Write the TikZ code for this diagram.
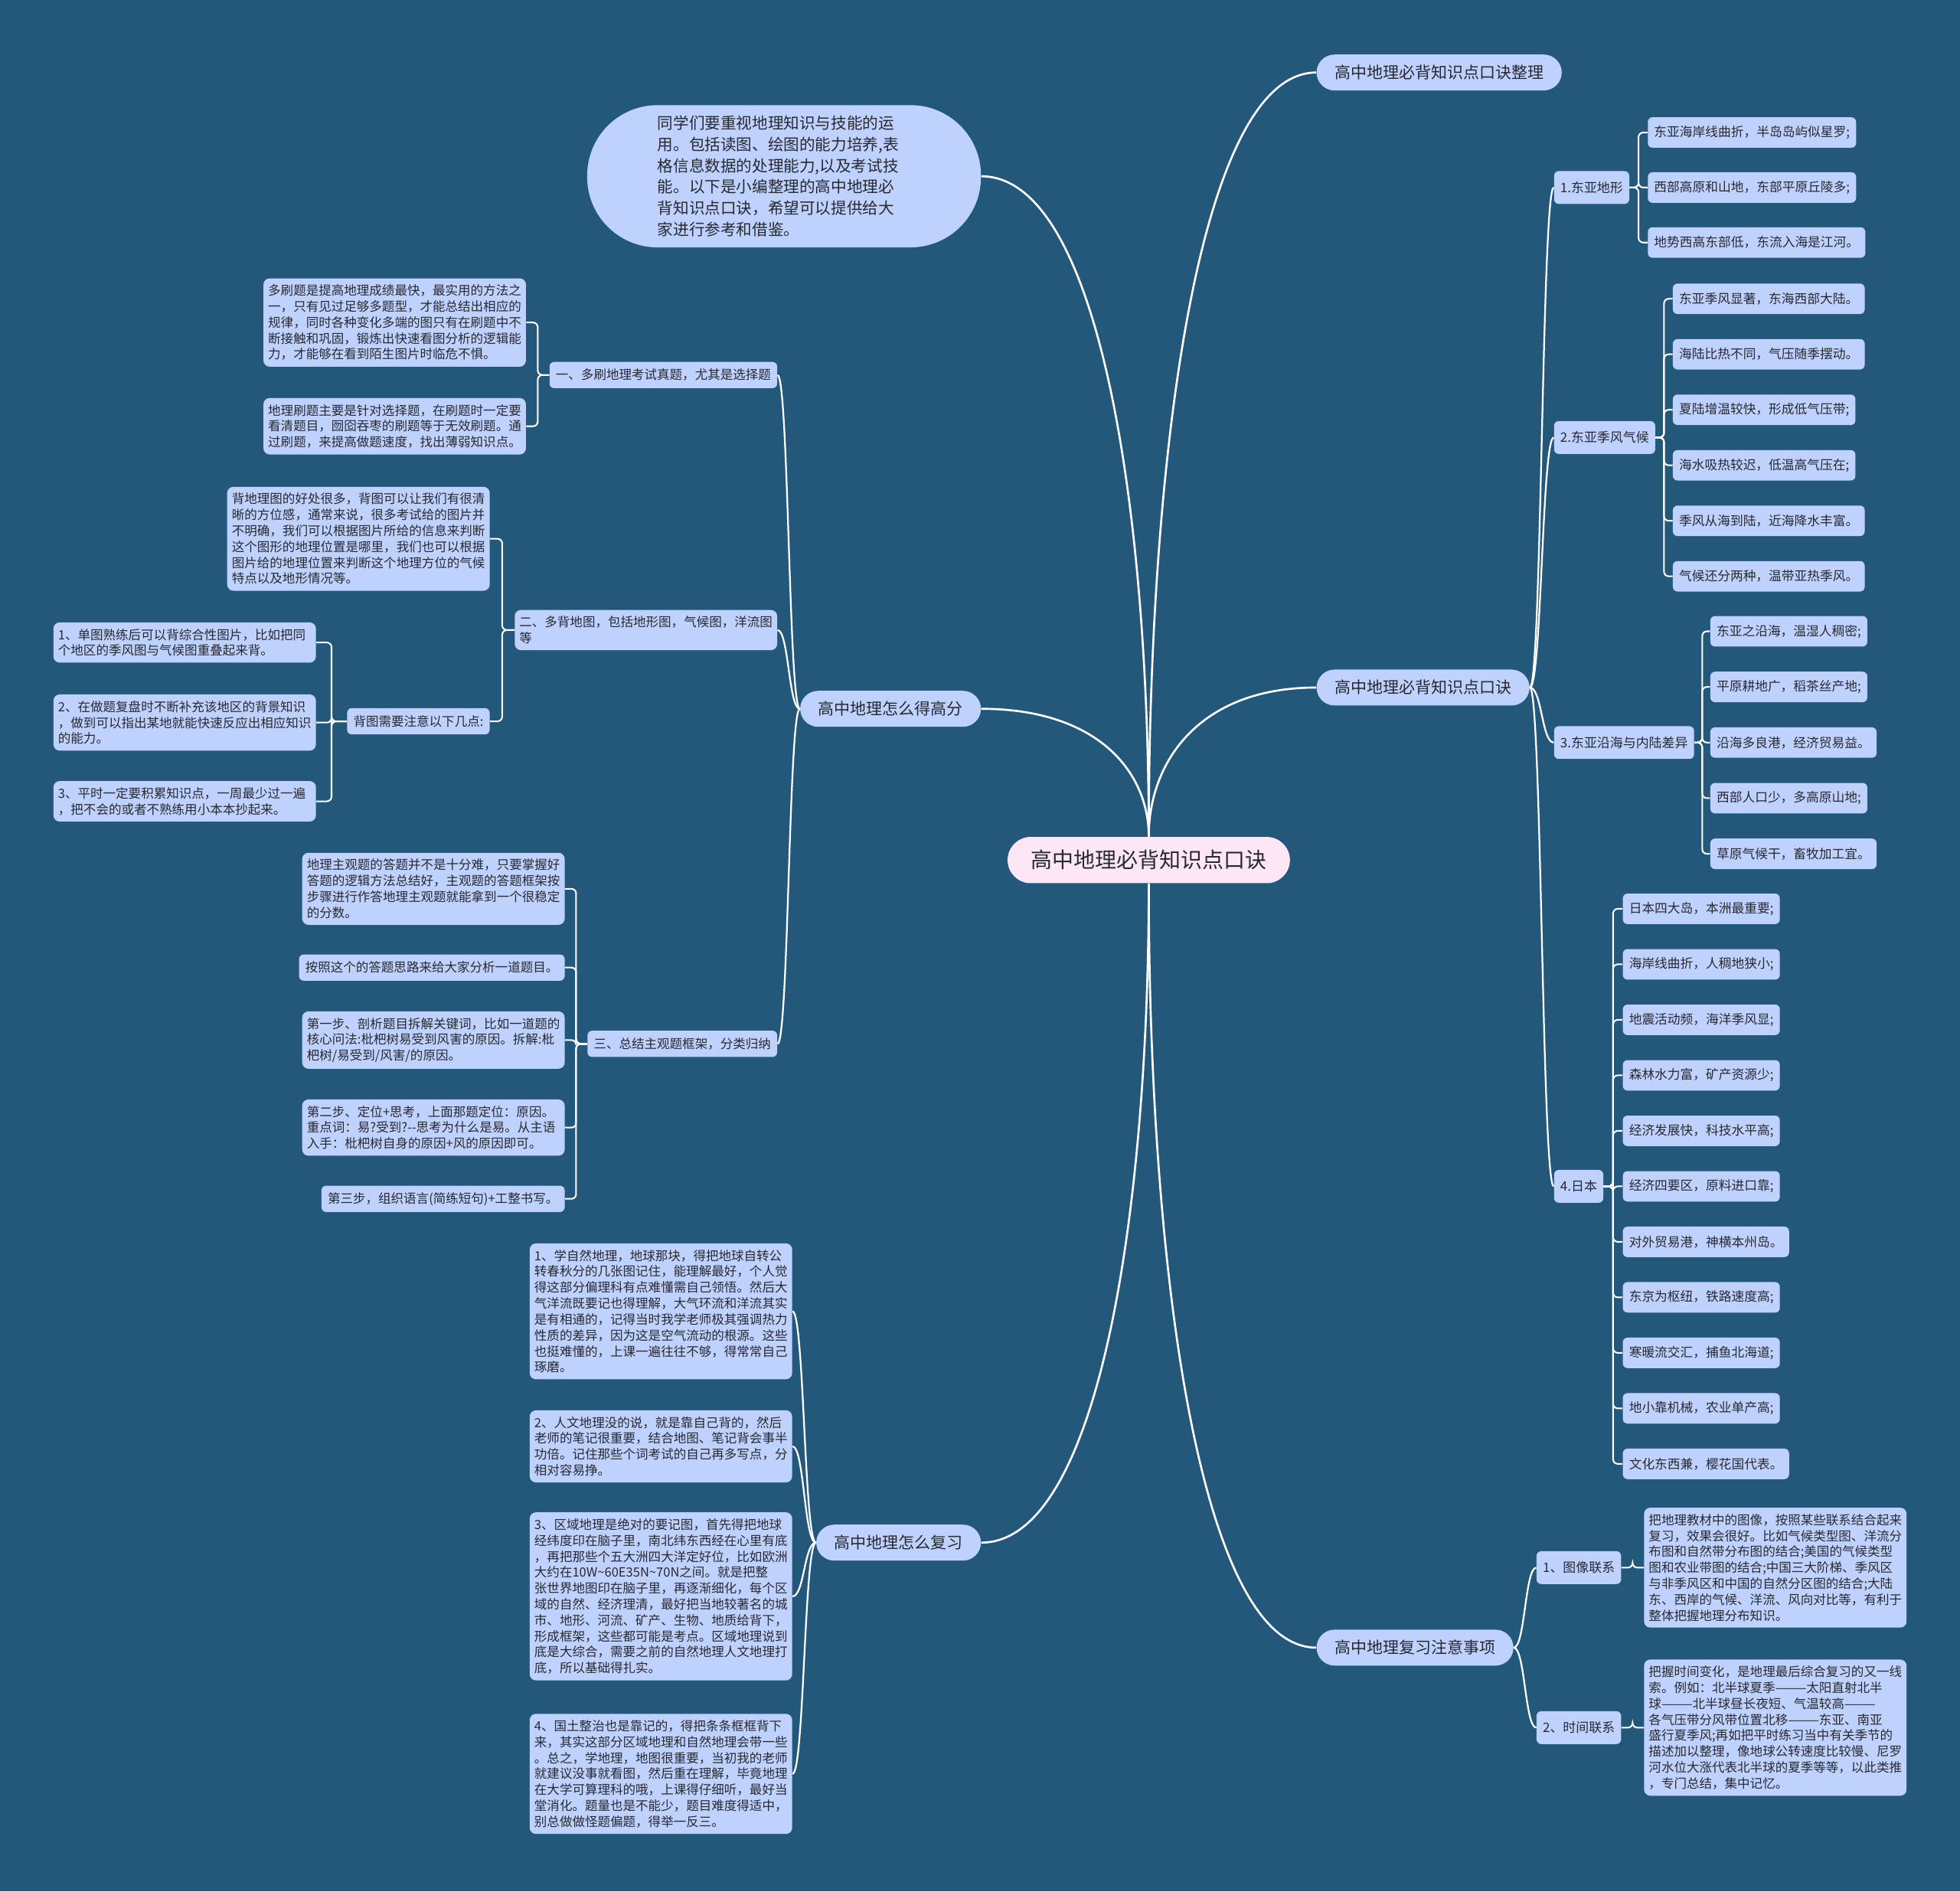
\documentclass[tikz,border=0pt]{standalone}
\usepackage{fontspec}
\setmainfont{Noto Sans CJK SC}
\usetikzlibrary{calc}

\definecolor{bgblue}{RGB}{35,88,123}
\definecolor{boxblue}{RGB}{191,210,254}
\definecolor{rootpink}{RGB}{253,231,246}
\definecolor{ink}{RGB}{40,40,48}

\tikzset{
  rootnode/.style={fill=rootpink, text=ink, rounded corners=14.8pt, minimum height=29.6pt,
    inner xsep=15pt, font=\fontsize{13.7pt}{16pt}\selectfont},
  topic/.style={fill=boxblue, text=ink, rounded corners=11.5pt, minimum height=23pt,
    inner xsep=11.5pt, font=\fontsize{10.3pt}{12pt}\selectfont},
  bubble/.style={fill=boxblue, text=ink, rounded corners=45pt, minimum width=252pt,
    minimum height=91pt, text width=162pt, align=left, font=\fontsize{10.1pt}{13.6pt}\selectfont},
  tag/.style={fill=boxblue, text=ink, rounded corners=3pt, minimum height=21pt,
    inner xsep=4pt, font=\fontsize{8.3pt}{10pt}\selectfont},
  ltag/.style={tag, minimum height=16.8pt, font=\fontsize{8.1pt}{10pt}\selectfont},
  leaf/.style={tag, minimum height=19.5pt, font=\fontsize{8.2pt}{10pt}\selectfont},
  para/.style={fill=boxblue, text=ink, rounded corners=4pt, text width=162pt, align=left,
    inner xsep=3pt, inner ysep=4pt, font=\fontsize{8.1pt}{10.2pt}\selectfont},
  trunk/.style={draw=white, line width=1.3pt},
  limb/.style={draw=white, line width=1.1pt},
  twig/.style={draw=white, line width=1pt, rounded corners=3pt,
    to path={let \p1=(\tikztostart), \p2=(\tikztotarget) in
      (\p1) -- ({(\x1+\x2)/2},\y1) |- (\p2)}},
  rootlink/.style={to path={let \p1=(\tikztostart), \p2=(\tikztotarget) in
      (\p1) .. controls (\x1,{(\y1+\y2)/2}) and ({\x1+0.3*(\x2-\x1)},\y2) .. (\p2)}},
  sublink/.style={to path={let \p1=(\tikztostart), \p2=(\tikztotarget) in
      (\p1) .. controls ({(\x1+\x2)/2},\y1) and ({(\x1+\x2)/2},\y2) .. (\p2)}}
}

\begin{document}
\begin{tikzpicture}[x=0.8pt, y=-0.8pt]

  \def\rowgap{44.4}

  \useasboundingbox (0,0) rectangle (1568,1513);
  \fill[bgblue] (0,0) rectangle (1568,1513);

  % Centre and main topics
  \node[rootnode] (root) at (919,688) {高中地理必背知识点口诀};
  \node[topic, anchor=west] (sort) at (1053,58) {高中地理必背知识点口诀整理};
  \node[topic, anchor=west] (rhyme) at (1053,550) {高中地理必背知识点口诀};
  \node[topic, anchor=west] (note) at (1053,1318) {高中地理复习注意事项};
  \node[bubble, anchor=east] (intro) at (785,141) {同学们要重视地理知识与技能的运\\用。包括读图、绘图的能力培养,表\\格信息数据的处理能力,以及考试技\\能。以下是小编整理的高中地理必\\背知识点口诀，希望可以提供给大\\家进行参考和借鉴。};
  \node[topic, anchor=east] (score) at (785,567) {高中地理怎么得高分};
  \node[topic, anchor=east] (review) at (785,1234) {高中地理怎么复习};

  \foreach \k in {sort,rhyme}
    \draw[trunk] (root.north) to[rootlink] (\k.west);
  \foreach \k in {intro,score}
    \draw[trunk] (root.north) to[rootlink] (\k.east);
  \draw[trunk] (root.south) to[rootlink] (note.west);
  \draw[trunk] (root.south) to[rootlink] (review.east);

  % Right — rhymes, four groups
  \node[tag, anchor=west] (terrain) at (1243,150) {1.东亚地形};
  \node[tag, anchor=west] (monsoon) at (1243,350) {2.东亚季风气候};
  \node[tag, anchor=west] (coast) at (1243,594) {3.东亚沿海与内陆差异};
  \node[tag, anchor=west] (japan) at (1243,949) {4.日本};
  \foreach \k in {terrain,monsoon,coast,japan}
    \draw[limb] (rhyme.east) to[sublink] (\k.west);

  \foreach \txt [count=\i] in {东亚海岸线曲折，半岛岛屿似星罗;,西部高原和山地，东部平原丘陵多;,地势西高东部低，东流入海是江河。}{
    \node[leaf, anchor=west] (terrain\i) at (1318,{106+44*(\i-1)}) {\txt};
    \draw[twig] (terrain.east) to (terrain\i.west);
  }
  \foreach \txt [count=\i] in {东亚季风显著，东海西部大陆。,海陆比热不同，气压随季摆动。,夏陆增温较快，形成低气压带;,海水吸热较迟，低温高气压在;,季风从海到陆，近海降水丰富。,气候还分两种，温带亚热季风。}{
    \node[leaf, anchor=west] (monsoon\i) at (1338,{239+\rowgap*(\i-1)}) {\txt};
    \draw[twig] (monsoon.east) to (monsoon\i.west);
  }
  \foreach \txt [count=\i] in {东亚之沿海，温湿人稠密;,平原耕地广，稻茶丝产地;,沿海多良港，经济贸易益。,西部人口少，多高原山地;,草原气候干，畜牧加工宜。}{
    \node[leaf, anchor=west] (coast\i) at (1368,{505+44.5*(\i-1)}) {\txt};
    \draw[twig] (coast.east) to (coast\i.west);
  }
  \foreach \txt [count=\i] in {日本四大岛，本洲最重要;,海岸线曲折，人稠地狭小;,地震活动频，海洋季风显;,森林水力富，矿产资源少;,经济发展快，科技水平高;,经济四要区，原料进口靠;,对外贸易港，神横本州岛。,东京为枢纽，铁路速度高;,寒暖流交汇，捕鱼北海道;,地小靠机械，农业单产高;,文化东西兼，樱花国代表。}{
    \node[leaf, anchor=west] (japan\i) at (1298,{727+\rowgap*(\i-1)}) {\txt};
    \draw[twig] (japan.east) to (japan\i.west);
  }

  % Right — review notes
  \node[tag, anchor=west] (imglink) at (1229,1254) {1、图像联系};
  \node[tag, anchor=west] (timelink) at (1229,1382) {2、时间联系};
  \node[para, anchor=west] (imgtext) at (1315,1254) {把地理教材中的图像，按照某些联系结合起来\\复习，效果会很好。比如气候类型图、洋流分\\布图和自然带分布图的结合;美国的气候类型\\图和农业带图的结合;中国三大阶梯、季风区\\与非季风区和中国的自然分区图的结合;大陆\\东、西岸的气候、洋流、风向对比等，有利于\\整体把握地理分布知识。};
  \node[para, anchor=west] (timetext) at (1315,1382) {把握时间变化，是地理最后综合复习的又一线\\索。例如：北半球夏季———太阳直射北半\\球———北半球昼长夜短、气温较高———\\各气压带分风带位置北移———东亚、南亚\\盛行夏季风;再如把平时练习当中有关季节的\\描述加以整理，像地球公转速度比较慢、尼罗\\河水位大涨代表北半球的夏季等等，以此类推\\，专门总结，集中记忆。};
  \foreach \k in {imglink,timelink}
    \draw[limb] (note.east) to[sublink] (\k.west);
  \draw[twig] (imglink.east) to (imgtext.west);
  \draw[twig] (timelink.east) to (timetext.west);

  % Left — how to score high
  \node[ltag, anchor=east] (drill) at (622,300) {一、多刷地理考试真题，尤其是选择题};
  \node[para, anchor=east] (maps) at (622,504) {二、多背地图，包括地形图，气候图，洋流图\\等};
  \node[ltag, anchor=east] (frame) at (622,835) {三、总结主观题框架，分类归纳};
  \foreach \k in {drill,maps,frame}
    \draw[limb] (score.west) to[sublink] (\k.east);

  \node[para, anchor=east] (drilla) at (421,258) {多刷题是提高地理成绩最快，最实用的方法之\\一，只有见过足够多题型，才能总结出相应的\\规律，同时各种变化多端的图只有在刷题中不\\断接触和巩固，锻炼出快速看图分析的逻辑能\\力，才能够在看到陌生图片时临危不惧。};
  \node[para, anchor=east] (drillb) at (421,341) {地理刷题主要是针对选择题，在刷题时一定要\\看清题目，囫囵吞枣的刷题等于无效刷题。通\\过刷题，来提高做题速度，找出薄弱知识点。};
  \foreach \k in {drilla,drillb}
    \draw[twig] (drill.west) to (\k.east);

  \node[para, anchor=east] (mapsa) at (392,431) {背地理图的好处很多，背图可以让我们有很清\\晰的方位感，通常来说，很多考试给的图片并\\不明确，我们可以根据图片所给的信息来判断\\这个图形的地理位置是哪里，我们也可以根据\\图片给的地理位置来判断这个地理方位的气候\\特点以及地形情况等。};
  \node[ltag, anchor=east] (mapsb) at (392,577) {背图需要注意以下几点:};
  \foreach \k in {mapsa,mapsb}
    \draw[twig] (maps.west) to (\k.east);

  \node[para, anchor=east] (tipa) at (253,514) {1、单图熟练后可以背综合性图片，比如把同\\个地区的季风图与气候图重叠起来背。};
  \node[para, anchor=east] (tipb) at (253,578) {2、在做题复盘时不断补充该地区的背景知识\\，做到可以指出某地就能快速反应出相应知识\\的能力。};
  \node[para, anchor=east] (tipc) at (253,641) {3、平时一定要积累知识点，一周最少过一遍\\，把不会的或者不熟练用小本本抄起来。};
  \foreach \k in {tipa,tipb,tipc}
    \draw[twig] (mapsb.west) to (\k.east);

  \node[para, anchor=east] (framea) at (452,711) {地理主观题的答题并不是十分难，只要掌握好\\答题的逻辑方法总结好，主观题的答题框架按\\步骤进行作答地理主观题就能拿到一个很稳定\\的分数。};
  \node[ltag, anchor=east] (frameb) at (452,774) {按照这个的答题思路来给大家分析一道题目。};
  \node[para, anchor=east] (framec) at (452,832) {第一步、剖析题目拆解关键词，比如一道题的\\核心问法:枇杷树易受到风害的原因。拆解:枇\\杷树/易受到/风害/的原因。};
  \node[para, anchor=east] (framed) at (452,902) {第二步、定位+思考，上面那题定位：原因。\\重点词：易?受到?-{}-思考为什么是易。从主语\\入手：枇杷树自身的原因+风的原因即可。};
  \node[ltag, anchor=east] (framee) at (452,959) {第三步，组织语言(简练短句)+工整书写。};
  \foreach \k in {framea,frameb,framec,framed,framee}
    \draw[twig] (frame.west) to (\k.east);

  % Left — how to review
  \node[para, anchor=east] (reva) at (634,1049) {1、学自然地理，地球那块，得把地球自转公\\转春秋分的几张图记住，能理解最好，个人觉\\得这部分偏理科有点难懂需自己领悟。然后大\\气洋流既要记也得理解，大气环流和洋流其实\\是有相通的，记得当时我学老师极其强调热力\\性质的差异，因为这是空气流动的根源。这些\\也挺难懂的，上课一遍往往不够，得常常自己\\琢磨。};
  \node[para, anchor=east] (revb) at (634,1157) {2、人文地理没的说，就是靠自己背的，然后\\老师的笔记很重要，结合地图、笔记背会事半\\功倍。记住那些个词考试的自己再多写点，分\\相对容易挣。};
  \node[para, anchor=east] (revc) at (634,1277) {3、区域地理是绝对的要记图，首先得把地球\\经纬度印在脑子里，南北纬东西经在心里有底\\，再把那些个五大洲四大洋定好位，比如欧洲\\大约在10W\textasciitilde 60E35N\textasciitilde 70N之间。就是把整\\张世界地图印在脑子里，再逐渐细化，每个区\\域的自然、经济理清，最好把当地较著名的城\\市、地形、河流、矿产、生物、地质给背下，\\形成框架，这些都可能是考点。区域地理说到\\底是大综合，需要之前的自然地理人文地理打\\底，所以基础得扎实。};
  \node[para, anchor=east] (revd) at (634,1419) {4、国土整治也是靠记的，得把条条框框背下\\来，其实这部分区域地理和自然地理会带一些\\。总之，学地理，地图很重要，当初我的老师\\就建议没事就看图，然后重在理解，毕竟地理\\在大学可算理科的哦，上课得仔细听，最好当\\堂消化。题量也是不能少，题目难度得适中，\\别总做做怪题偏题，得举一反三。};
  \foreach \k in {reva,revb,revc,revd}
    \draw[limb] (review.west) to[sublink] (\k.east);

\end{tikzpicture}
\end{document}
